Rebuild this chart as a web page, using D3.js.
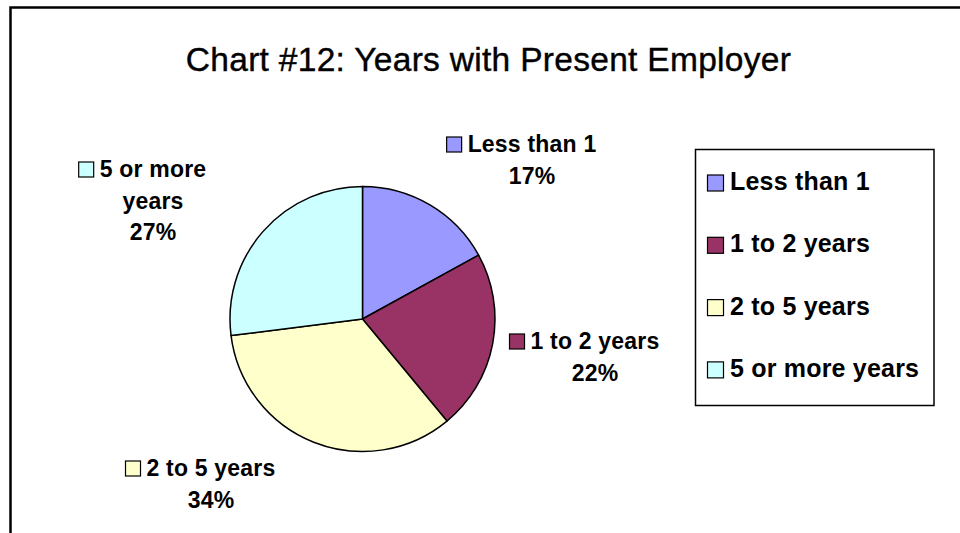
<!DOCTYPE html>
<html>
<head>
<meta charset="utf-8">
<script src="https://cdn.jsdelivr.net/npm/d3@7"></script>
<style>
  body { margin: 0; background: #fff; }
  text { font-family: "Liberation Sans", Arial, sans-serif; fill: #000; }
</style>
</head>
<body>
<div id="pie"></div>
<script>
// chart data
var categories = ["Less than 1", "1 to 2 years", "2 to 5 years", "5 or more years"];
var values = [17, 22, 34, 27];
var colors = ["#9999FF", "#993366", "#FFFFCC", "#CCFFFF"];
// data label text lines (category wrapped like the original)
var labelLines = [["Less than 1"], ["1 to 2 years"], ["2 to 5 years"], ["5 or more", "years"]];
var titleText = "Chart #12: Years with Present Employer";

// layout
var width = 960, height = 533;
var cx = 362.5, cy = 319, radius = 132.5;
// where each data label sits: center of text block x, first baseline y
var labelPos = [[532, 152], [595, 349], [211, 476], [153, 177]];
var lineStep = 31.5;

var svg = d3.select("#pie").append("svg")
    .attr("width", width)
    .attr("height", height);

//Outer chart frame (runs off the right and bottom)
svg.append("rect")
    .attr("x", 10.5).attr("y", 7.5)
    .attr("width", 980).attr("height", 560)
    .attr("fill", "#fff")
    .attr("stroke", "#000")
    .attr("stroke-width", 2.5);

//Title
svg.append("text")
    .attr("x", 488.5).attr("y", 71)
    .attr("text-anchor", "middle")
    .style("font-size", "33.5px")
    .style("letter-spacing", "0.3px")
    .style("stroke", "#000")
    .style("stroke-width", "0.4px")
    .text(titleText);

var total = d3.sum(values);
var pct = d3.format(".0%");

var pie = d3.pie().sort(null).value(function(d) { return d; });
var arc = d3.arc().innerRadius(0).outerRadius(radius);
var arcs = pie(values);

var g = svg.append("g")
    .attr("transform", "translate(" + cx + "," + cy + ")");

g.selectAll("path")
    .data(arcs)
  .enter().append("path")
    .attr("d", arc)
    .attr("fill", function(d, i) { return colors[i]; })
    .attr("stroke", "#000")
    .attr("stroke-width", 1.5)
    .attr("stroke-linejoin", "round");

//Data labels: key square + category + percent
var labels = svg.selectAll(".label")
    .data(arcs)
  .enter().append("g")
    .attr("class", "label");

labels.each(function(d, i) {
  var lab = d3.select(this);
  var lines = labelLines[i].concat([pct(d.value / total)]);
  var px = labelPos[i][0], py = labelPos[i][1];
  var first;
  lines.forEach(function(line, k) {
    var t = lab.append("text")
        .attr("x", px).attr("y", py + k * lineStep)
        .attr("text-anchor", "middle")
        .style("font-size", "23px")
        .style("font-weight", "bold")
        .style("letter-spacing", "0.2px")
        .text(line);
    if (k == 0) first = t;
  });
  var w = first.node().getComputedTextLength();
  lab.append("rect")
      .attr("x", px - w / 2 - 21).attr("y", py - 15)
      .attr("width", 15).attr("height", 15)
      .attr("fill", colors[i])
      .attr("stroke", "#000")
      .attr("stroke-width", 1.2);
});

//Legend
var legend = svg.append("g");
legend.append("rect")
    .attr("x", 695.5).attr("y", 149.5)
    .attr("width", 238.5).attr("height", 256)
    .attr("fill", "#fff")
    .attr("stroke", "#000")
    .attr("stroke-width", 1.5);

var items = legend.selectAll(".item")
    .data(categories)
  .enter().append("g")
    .attr("class", "item")
    .attr("transform", function(d, i) { return "translate(707," + (190 + i * 62.3) + ")"; });

items.append("rect")
    .attr("x", 0.5).attr("y", -15)
    .attr("width", 16).attr("height", 16)
    .attr("fill", function(d, i) { return colors[i]; })
    .attr("stroke", "#000")
    .attr("stroke-width", 1.2);

items.append("text")
    .attr("x", 23).attr("y", 0)
    .style("font-size", "25px")
    .style("font-weight", "bold")
    .style("letter-spacing", "0.2px")
    .text(function(d) { return d; });
</script>
</body>
</html>
